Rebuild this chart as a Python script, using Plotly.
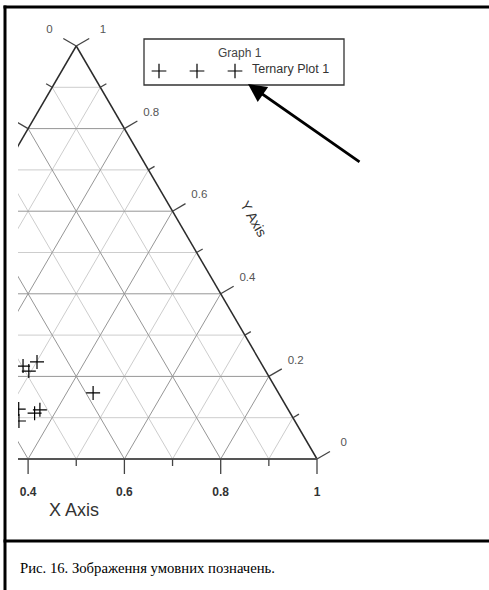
import plotly.graph_objects as go

# ---- data: ternary compositions (X Axis and Y Axis fractions; third part = 1 - X - Y)
x_frac = [0.277, 0.295, 0.301, 0.455, 0.320, 0.335, 0.358, 0.365]
y_frac = [0.225, 0.213, 0.235, 0.160, 0.121, 0.092, 0.111, 0.119]

tick_values = [0.0, 0.1, 0.2, 0.3, 0.4, 0.5, 0.6, 0.7, 0.8, 0.9, 1.0]
major_values = [0.0, 0.2, 0.4, 0.6, 0.8, 1.0]
major_labels = ["0", "0.2", "0.4", "0.6", "0.8", "1"]
bottom_labels = ["0", "0.2", "0.4", "0.6", "0.8", "1"]

legend_title = "Graph 1"
series_name = "Ternary Plot 1"
x_title = "X Axis"
y_title = "Y Axis"
caption = "Рис. 16. Зображення умовних позначень."

# ---- page geometry (pixels)
W, H = 489, 590
LEFT = 18            # plot area starts here; everything left of it is clipped
X0 = -164.5          # pixel x of the triangle's left vertex
BASE = 481.5         # pixel length of the base
BASE_Y = 459         # pixel y of the base
HEIGHT = 413         # pixel height of the triangle

SANS = "Liberation Sans, Arial, sans-serif"
SERIF = "Liberation Serif, Times New Roman, serif"

X_MIN = (LEFT - X0) / BASE   # left edge of the visible area in data units


def tern(X, Y):
    """Ternary (X, Y) -> cartesian data coordinates."""
    return X + Y / 2.0, Y


def shift(pt, dpx, dpy):
    """Move a data point by a pixel offset (dpy positive = down)."""
    return pt[0] + dpx / BASE, pt[1] - dpy / HEIGHT


def seg_trace(segs, color, width):
    xs, ys = [], []
    for (a, b) in segs:
        xs += [a[0], b[0], None]
        ys += [a[1], b[1], None]
    return go.Scatter(x=xs, y=ys, mode="lines", line=dict(color=color, width=width),
                      hoverinfo="skip", showlegend=False)


fig = go.Figure()

# grid lines of constant X, Y and Z
minor, major = [], []
for v in tick_values[1:-1]:
    group = major if any(abs(v - m) < 1e-9 for m in major_values) else minor
    group.append((tern(1 - v, v), tern(0, v)))          # constant Y
    group.append((tern(v, 0), tern(v, 1 - v)))          # constant X
    group.append((tern(1 - v, 0), tern(0, 1 - v)))      # constant Z
fig.add_trace(seg_trace(minor, "#cdcdcd", 1))
fig.add_trace(seg_trace(major, "#969696", 1))

# triangle edges
fig.add_trace(seg_trace([(tern(0, 0), tern(0, 1)), (tern(1, 0), tern(0, 1))], "#2b2b2b", 1.5))
fig.add_trace(seg_trace([(tern(0, 0), tern(1, 0))], "#555555", 2))

# outward unit directions (pixels) for each edge
R_DIR = (0.864, -0.504)
L_DIR = (-0.864, -0.504)
B_DIR = (0.0, 1.0)

ticks = []
for v in tick_values:
    is_major = any(abs(v - m) < 1e-9 for m in major_values)
    L = 15 if is_major else 7
    pb = tern(v, 0)
    ticks.append((pb, shift(pb, B_DIR[0] * L, B_DIR[1] * L)))
    pr = tern(1 - v, v)
    ticks.append((pr, shift(pr, R_DIR[0] * L, R_DIR[1] * L)))
    pl = tern(0, 1 - v)
    ticks.append((pl, shift(pl, L_DIR[0] * L, L_DIR[1] * L)))
fig.add_trace(seg_trace(ticks, "#444444", 1.3))

# tick labels (only those whose text lies inside the visible area)
MARGIN = 8 / BASE
bx, by, bt, sx, sy, st = [], [], [], [], [], []
for v, lab_b, lab in zip(major_values, bottom_labels, major_labels):
    p = shift(tern(v, 0), 0, 34)
    if p[0] - MARGIN > X_MIN:
        bx.append(p[0]); by.append(p[1]); bt.append(f"<b>{lab_b}</b>")
    for q in (shift(tern(1 - v, v), R_DIR[0] * 31, R_DIR[1] * 31),
              shift(tern(0, 1 - v), L_DIR[0] * 31, L_DIR[1] * 31)):
        if q[0] - MARGIN > X_MIN:
            sx.append(q[0]); sy.append(q[1]); st.append(lab)
fig.add_trace(go.Scatter(x=bx, y=by, mode="text", text=bt,
                         textfont=dict(family=SANS, size=12, color="#333333"),
                         hoverinfo="skip", showlegend=False))
fig.add_trace(go.Scatter(x=sx, y=sy, mode="text", text=st,
                         textfont=dict(family=SANS, size=11.5, color="#555555"),
                         hoverinfo="skip", showlegend=False))

# data points
px_, py_ = zip(*[tern(a, b) for a, b in zip(x_frac, y_frac)])
fig.add_trace(go.Scatter(x=list(px_), y=list(py_), mode="markers", name=series_name,
                         marker=dict(symbol="cross-thin", size=10, color="black",
                                     line=dict(color="black", width=1.2)),
                         showlegend=False))

# legend symbols (pixel-coordinate overlay axes)
fig.add_trace(go.Scatter(x=[159, 197, 235], y=[71, 71, 71], xaxis="x2", yaxis="y2",
                         mode="markers", hoverinfo="skip", showlegend=False,
                         marker=dict(symbol="cross-thin", size=10.5, color="black",
                                     line=dict(color="black", width=1.2))))

# axis titles
xt = shift(tern(0.5, 0), -2, 51)
ym = tern(0.5, 0.5)
yt = shift(ym, R_DIR[0] * 66, R_DIR[1] * 66)
annotations = [
    dict(x=xt[0], y=xt[1], xref="x", yref="y", text=x_title, showarrow=False,
         font=dict(family=SANS, size=18, color="#333333")),
    dict(x=yt[0], y=yt[1], xref="x", yref="y", text=y_title, showarrow=False, textangle=60,
         font=dict(family=SANS, size=14, color="#333333")),
    dict(x=240, y=53, xref="x2", yref="y2", text=legend_title, showarrow=False,
         font=dict(family=SANS, size=12, color="#444444")),
    dict(x=250, y=69, xref="x2", yref="y2", text=series_name, showarrow=False, xanchor="left",
         font=dict(family=SANS, size=12.5, color="#333333")),
    dict(x=248, y=84, xref="x2", yref="y2", ax=113, ay=79, text="", showarrow=True,
         arrowhead=2, arrowsize=1.3, arrowwidth=2.8, arrowcolor="black"),
    dict(x=(18 - LEFT) / (W - LEFT), y=1 - 568 / H, xref="paper", yref="paper", text=caption,
         showarrow=False, xanchor="left", yanchor="middle",
         font=dict(family=SERIF, size=14.7, color="black")),
]


def px_paper_x(p):
    return (p - LEFT) / (W - LEFT)


def px_paper_y(p):
    return 1 - p / H


shapes = [
    dict(type="rect", xref="x2", yref="y2", x0=144, x1=344, y0=39, y1=85,
         line=dict(color="#333333", width=1.3)),
    dict(type="line", xref="paper", yref="paper", x0=px_paper_x(3.5), x1=px_paper_x(W + 2),
         y0=px_paper_y(7), y1=px_paper_y(7), line=dict(color="black", width=3)),
    dict(type="line", xref="paper", yref="paper", x0=px_paper_x(3.5), x1=px_paper_x(W + 2),
         y0=px_paper_y(541), y1=px_paper_y(541), line=dict(color="black", width=3)),
    dict(type="line", xref="paper", yref="paper", x0=px_paper_x(5), x1=px_paper_x(5),
         y0=px_paper_y(5.5), y1=px_paper_y(H + 2), line=dict(color="black", width=3)),
]

fig.update_layout(
    width=W, height=H,
    margin=dict(l=LEFT, r=0, t=0, b=0),
    paper_bgcolor="white", plot_bgcolor="white",
    showlegend=False, hovermode=False,
    xaxis=dict(range=[X_MIN, (W - X0) / BASE], visible=False, fixedrange=True),
    yaxis=dict(range=[(BASE_Y - H) / HEIGHT, BASE_Y / HEIGHT], visible=False, fixedrange=True),
    xaxis2=dict(range=[LEFT, W], overlaying="x", visible=False, fixedrange=True),
    yaxis2=dict(range=[H, 0], overlaying="y", visible=False, fixedrange=True),
    annotations=annotations,
    shapes=shapes,
)

fig.write_html("out.html", config={"displayModeBar": False})
